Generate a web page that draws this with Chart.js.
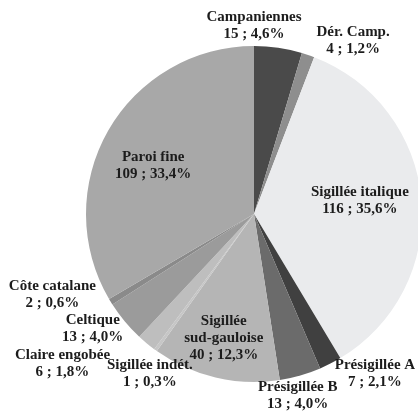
<!DOCTYPE html>
<html>
<head>
<meta charset="utf-8">
<script src="https://cdn.jsdelivr.net/npm/chart.js@4/dist/chart.umd.min.js"></script>
<style>
  html, body { margin: 0; padding: 0; background: #fff; overflow: hidden; }
  #wrap { width: 430px; height: 414px; }
</style>
</head>
<body>
<div id="wrap"><canvas id="camembert"></canvas></div>
<script>
// categories et valeurs (effectifs)
const categories = ['Campaniennes', 'Dér. Camp.', 'Sigillée italique', 'Présigillée A', 'Présigillée B',
  'Sigillée sud-gauloise', 'Sigillée indét.', 'Claire engobée', 'Celtique', 'Côte catalane', 'Paroi fine'];
const effectifs = [15, 4, 116, 7, 13, 40, 1, 6, 13, 2, 109];
const pourcentages = ['4,6%', '1,2%', '35,6%', '2,1%', '4,0%', '12,3%', '0,3%', '1,8%', '4,0%', '0,6%', '33,4%'];

// lignes de texte des étiquettes
const lignesNom = [['Campaniennes'], ['Dér. Camp.'], ['Sigillée italique'], ['Présigillée A'], ['Présigillée B'],
  ['Sigillée', 'sud-gauloise'], ['Sigillée indét.'], ['Claire engobée'], ['Celtique'], ['Côte catalane'], ['Paroi fine']];

const couleurs = ['#4a4a4a', '#8e8e8e', '#eaebed', '#404040', '#6b6b6b',
  '#b5b5b5', '#c6c6c6', '#bebebe', '#9b9b9b', '#8a8a8a', '#a8a8a8'];

// position des étiquettes, en fraction du rayon depuis le centre
const posEtiquettes = [[0, -1.12], [0.59, -1.03], [0.63, -0.08], [0.72, 0.95], [0.26, 1.08],
  [-0.18, 0.74], [-0.62, 0.95], [-1.14, 0.89], [-0.96, 0.68], [-1.2, 0.48], [-0.6, -0.29]];

const etiquettes = {
  id: 'etiquettes',
  afterDatasetsDraw(chart) {
    const ctx = chart.ctx;
    const arcs = chart.getDatasetMeta(0).data;
    ctx.save();
    ctx.font = 'bold 15px "Liberation Serif", "DejaVu Serif", serif';
    ctx.fillStyle = '#1c1c1c';
    ctx.textAlign = 'center';
    ctx.textBaseline = 'middle';
    arcs.forEach(function(arc, i) {
      const r = arc.outerRadius;
      const lignes = lignesNom[i].concat([effectifs[i] + ' ; ' + pourcentages[i]]);
      const cx = arc.x + posEtiquettes[i][0] * r;
      const cy = arc.y + posEtiquettes[i][1] * r;
      const h = 17;
      lignes.forEach(function(l, k) {
        ctx.fillText(l, cx, cy + (k - (lignes.length - 1) / 2) * h);
      });
    });
    ctx.restore();
  }
};

new Chart(document.getElementById('camembert'), {
  type: 'pie',
  data: {
    labels: categories,
    datasets: [{
      data: effectifs,
      backgroundColor: couleurs,
      borderWidth: 0
    }]
  },
  options: {
    responsive: true,
    maintainAspectRatio: false,
    animation: false,
    layout: { padding: { left: 86, top: 46, right: 8, bottom: 32 } },
    plugins: {
      legend: { display: false },
      tooltip: { enabled: false }
    }
  },
  plugins: [etiquettes]
});
</script>
</body>
</html>
